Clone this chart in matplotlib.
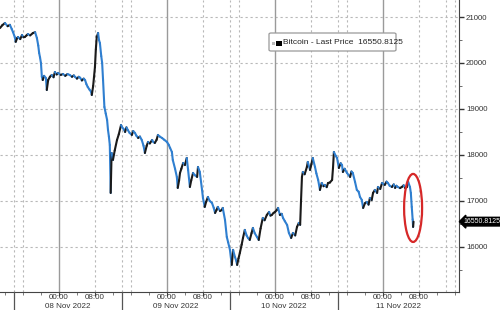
import matplotlib
matplotlib.use("Agg")
import matplotlib.pyplot as plt
import numpy as np
from matplotlib.collections import LineCollection
from matplotlib.patches import Ellipse, FancyBboxPatch, Rectangle
from matplotlib.transforms import blended_transform_factory

# hours relative to 08 Nov 2022 00:00, one pair of arrays per trading day
hours_07 = [-13.1, -12.6, -12.0, -11.4, -10.9, -10.5, -10.2, -9.8, -9.6, -9.3, -9.1, -8.6, -8.2, -7.9,
            -7.6, -7.2, -6.9, -6.4, -5.8, -5.3, -4.9, -4.6, -4.4, -4.2, -4.0, -3.8, -3.6, -3.3,
            -2.9, -2.7, -2.4, -2.0, -1.6, -1.2, -0.9, -0.5, -0.2]
prices_07 = [20760, 20820, 20870, 20800, 20830, 20740, 20670, 20560, 20460, 20540, 20565, 20520, 20610, 20560,
             20565, 20600, 20630, 20600, 20650, 20670, 20543, 20380, 20217, 20120, 20000, 19700, 19630, 19720,
             19674, 19413, 19630, 19700, 19739, 19690, 19804, 19750, 19783]

hours_08 = [0.4, 0.9, 1.4, 1.9, 2.4, 2.9, 3.3, 3.6, 4.0, 4.4, 4.7, 5.1, 5.5, 5.8, 6.1, 6.4, 6.8,
            7.1, 7.3, 7.6, 8.0, 8.2, 8.4, 8.7, 8.9, 9.1, 9.4, 9.6, 9.8, 10.1, 10.4, 10.7, 10.9,
            11.1, 11.3, 11.5, 11.7, 12.0, 12.4, 12.9, 13.3, 13.8, 14.0, 14.4, 14.7, 15.0, 15.3,
            15.7, 16.2, 16.5, 16.9, 17.2, 17.6, 18.0, 18.4, 18.8, 19.1, 19.5, 19.8, 20.2, 20.7,
            21.0, 21.3, 21.7, 22.0, 22.4, 22.9, 23.4]
prices_08 = [19740, 19761, 19720, 19760, 19739, 19700, 19730, 19696, 19660, 19700, 19680, 19620, 19660, 19630,
             19540, 19478, 19420, 19380, 19304, 19500, 19913, 20300, 20565, 20652, 20500, 20435, 20150, 20000,
             19630, 19043, 18900, 18761, 18543, 18400, 18217, 17174, 18043, 17891, 18100, 18326, 18450, 18652,
             18609, 18560, 18500, 18600, 18543, 18480, 18435, 18520, 18478, 18420, 18370, 18400, 18326, 18200,
             18043, 18200, 18283, 18250, 18326, 18280, 18261, 18330, 18435, 18400, 18370, 18330]

hours_09 = [24.0, 24.4, 24.7, 25.1, 25.3, 25.8, 26.2, 26.4, 26.7, 26.9, 27.2, 27.6, 28.0, 28.4, 28.7,
            29.1, 29.4, 29.8, 30.2, 30.7, 30.9, 31.3, 31.8, 32.0, 32.4, 32.7, 33.1, 33.5, 34.0, 34.4,
            34.7, 35.0, 35.3, 35.8, 36.2, 36.4, 36.9, 37.3, 37.6, 38.0, 38.4, 38.7, 39.1, 39.4, 39.6,
            39.9, 40.2, 40.6, 40.9, 41.3, 41.7, 42.0, 42.4, 42.8, 43.1, 43.5, 44.0, 44.4, 44.8, 45.3,
            45.7, 46.2, 46.7, 47.0, 47.3, 47.7]
prices_09 = [18283, 18220, 18152, 18065, 17891, 17700, 17522, 17283, 17450, 17609, 17700, 17826, 17780, 17935,
             17674, 17304, 17450, 17609, 17560, 17522, 17739, 17630, 17239, 17065, 16870, 16980, 17087, 17000,
             16957, 16850, 16739, 16800, 16870, 16780, 16804, 16848, 16587, 16217, 16100, 15935, 15609, 15935,
             15783, 15700, 15609, 15750, 15870, 16050, 16196, 16370, 16250, 16196, 16152, 16300, 16413, 16300,
             16217, 16152, 16400, 16630, 16580, 16696, 16761, 16680, 16696, 16740]

hours_10 = [48.0, 48.4, 48.7, 49.1, 49.5, 49.8, 50.2, 50.7, 51.1, 51.6, 52.0, 52.5, 52.9, 53.3, 53.6,
            53.8, 54.0, 54.2, 54.6, 55.1, 55.3, 55.8, 56.1, 56.4, 56.9, 57.2, 57.6, 58.0, 58.4, 58.8,
            59.1, 59.5, 59.8, 60.2, 60.7, 60.9, 61.1, 61.5, 61.8, 62.2, 62.6, 62.9, 63.1, 63.5, 64.0,
            64.4, 64.7, 65.0, 65.3, 65.8, 66.2, 66.6, 66.9, 67.3, 67.6, 68.0, 68.4, 68.8, 69.1, 69.5,
            69.8, 70.2, 70.7, 70.9, 71.4, 71.8]
prices_10 = [16761, 16800, 16848, 16696, 16720, 16630, 16560, 16478, 16304, 16196, 16304, 16250, 16435, 16522,
             16480, 17022, 17522, 17630, 17580, 17739, 17848, 17674, 17800, 17935, 17739, 17600, 17457, 17239,
             17391, 17320, 17348, 17300, 17391, 17400, 17457, 17717, 18065, 17980, 17935, 17717, 17820, 17783,
             17630, 17700, 17609, 17560, 17522, 17640, 17609, 17413, 17239, 17200, 17087, 17022, 16848, 16950,
             16978, 16920, 17065, 17020, 17174, 17239, 17174, 17304, 17260, 17391]

hours_11 = [72.4, 72.8, 73.1, 73.5, 74.0, 74.4, 74.7, 75.0, 75.3, 75.8, 76.2, 76.6, 76.9, 77.3,
            77.6, 78.0, 78.2, 78.4, 78.6, 78.7, 78.8]
prices_11 = [17348, 17420, 17391, 17330, 17304, 17360, 17283, 17330, 17304, 17280, 17304, 17340, 17283, 17300,
             17413, 17304, 17174, 16870, 16600, 16435, 16550]

last_price = "16550.8125"
series_name = "Bitcoin - Last Price"
y_ticks = [16000, 17000, 18000, 19000, 20000, 21000]
time_ticks = [0, 8, 24, 32, 48, 56, 72, 80]
time_labels = ["00:00", "08:00", "00:00", "08:00", "00:00", "08:00", "00:00", "08:00"]
date_labels = ["08 Nov 2022", "09 Nov 2022", "10 Nov 2022", "11 Nov 2022"]
date_centers = [2, 26, 50, 75.5]
separators = [-10, 14, 38, 62]

plt.rcParams['font.family'] = ['Liberation Sans', 'DejaVu Sans']

fig = plt.figure(figsize=(5, 3.1), dpi=100)
ax = fig.add_axes([0.0, 1 - 292/310, 459/500, 292/310])
XMIN, XMAX = -13.1, 88.9
ax.set_xlim(XMIN, XMAX)
ax.set_ylim(15020, 21370)

# grid
for v in y_ticks:
    ax.axhline(v, color='#b8b8b8', lw=0.8, ls=(0, (2, 2.5)), zorder=1)
for d in range(-1, 4):
    base = 24 * d
    for h, solid in [(base, True), (base + 8, False), (base + 14, False), (base + 16, False)]:
        if XMIN < h < XMAX:
            if solid:
                ax.axvline(h, color='#9a9a9a', lw=1.0, zorder=1)
            else:
                ax.axvline(h, color='#b8b8b8', lw=0.8, ls=(0, (2, 2.5)), zorder=1)

# price line: black on upticks, blue on downticks
x = np.array(hours_07 + hours_08 + hours_09 + hours_10 + hours_11, dtype=float)
y = np.array(prices_07 + prices_08 + prices_09 + prices_10 + prices_11, dtype=float)
pts = np.column_stack([x, y]).reshape(-1, 1, 2)
segs = np.concatenate([pts[:-1], pts[1:]], axis=1)
cols = ['#1a1a1a' if y[i + 1] >= y[i] else '#2f7fd0' for i in range(len(y) - 1)]
lc = LineCollection(segs, colors=cols, linewidths=1.5, zorder=3, capstyle='round', joinstyle='round')
ax.add_collection(lc)

# red ellipse highlight
ax.add_patch(Ellipse((78.7, 16848), 4.0, 1480, fill=False, edgecolor='#d62828', lw=1.6, zorder=4))

# spines
for s in ['left', 'top']:
    ax.spines[s].set_visible(False)
for s in ['right', 'bottom']:
    ax.spines[s].set_color('#444444')
    ax.spines[s].set_linewidth(0.8)

# y axis on right
ax.yaxis.tick_right()
ax.set_yticks(y_ticks)
ax.set_yticklabels([str(v) for v in y_ticks])
ax.set_yticks([15500, 16500, 17500, 18500, 19500, 20500], minor=True)
ax.tick_params(axis='y', which='major', direction='out', length=3.5, width=1.0, color='#333333',
               labelsize=5.6, labelcolor='#333333', pad=1.5)
ax.tick_params(axis='y', which='minor', direction='out', length=2.5, width=0.6, color='#555555')

# x axis
ax.set_xticks(time_ticks)
ax.set_xticklabels([])
ax.set_xticks(np.arange(-12, 89, 4), minor=True)
ax.tick_params(axis='x', which='major', direction='out', length=3, width=0.8, color='#444444')
ax.tick_params(axis='x', which='minor', direction='out', length=2, width=0.6, color='#666666')

tr = blended_transform_factory(ax.transData, ax.transAxes)
for h, lab in zip(time_ticks, time_labels):
    ax.text(h, -0.018, lab, transform=tr, ha='center', va='center', fontsize=5.8, color='#333333')
for h, lab in zip(date_centers, date_labels):
    ax.text(h, -0.049, lab, transform=tr, ha='center', va='center', fontsize=5.8, color='#333333')
for h in separators:
    ax.plot([h, h], [0, -0.07], transform=tr, color='#555555', lw=0.9, clip_on=False, zorder=5)

# legend box
fx = lambda px: px / 500
fy = lambda py: 1 - py / 310
leg = FancyBboxPatch((fx(269), fy(51)), fx(396) - fx(269), fy(33) - fy(51),
                     boxstyle='round,pad=0,rounding_size=0.004', transform=fig.transFigure,
                     facecolor='white', edgecolor='#9a9a9a', lw=0.9, zorder=10)
fig.patches.append(leg)
fig.patches.append(Rectangle((fx(271.5), fy(44.5)), fx(3), 3 / 310, transform=fig.transFigure,
                             facecolor='#bbbbbb', edgecolor='none', zorder=11))
fig.patches.append(Rectangle((fx(276), fy(46)), fx(5.5), 5.5 / 310, transform=fig.transFigure,
                             facecolor='black', edgecolor='none', zorder=11))
fig.text(fx(283), fy(42.5), f"{series_name}  {last_price}", fontsize=6.0, color='#222222',
         ha='left', va='center', zorder=12)

# last price tag
ax.annotate(last_price, xy=(1.0, 16550), xycoords=('axes fraction', 'data'),
            xytext=(3.5, 0), textcoords='offset points', ha='left', va='center',
            fontsize=5.0, color='white', annotation_clip=False,
            bbox=dict(boxstyle='larrow,pad=0.12', facecolor='black', edgecolor='black'))

fig.savefig('out.png', dpi=100)
